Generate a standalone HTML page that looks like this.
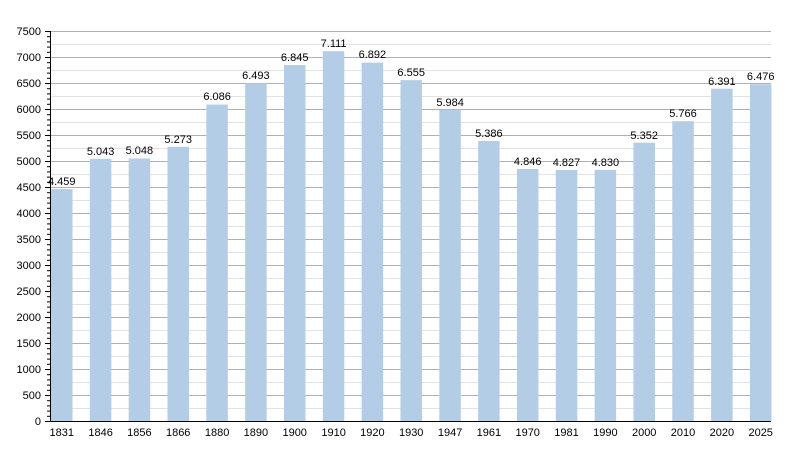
<!DOCTYPE html><html><head><style>body{margin:0;background:#fff}svg{display:block;font-family:"Liberation Sans",sans-serif}</style></head><body>
<svg width="800" height="450" xmlns="http://www.w3.org/2000/svg">
<defs>
<pattern id="mg" patternUnits="userSpaceOnUse" x="0" y="5" width="800" height="26"><line x1="0" x2="800" y1="0.5" y2="0.5" stroke="#b0b0b0"/><line x1="0" x2="800" y1="13.5" y2="13.5" stroke="#e2e2e2"/></pattern>
<pattern id="tk" patternUnits="userSpaceOnUse" x="0" y="5" width="10" height="5.2"><rect x="0" y="0" width="10" height="1" fill="#000"/></pattern>
<pattern id="tM" patternUnits="userSpaceOnUse" x="0" y="5" width="10" height="26"><rect x="0" y="0" width="10" height="1" fill="#000"/></pattern>
</defs>
<rect x="50" y="30" width="721" height="392" fill="url(#mg)"/>
<rect x="47" y="30" width="3" height="392" fill="url(#tk)"/>
<rect x="45" y="30" width="5" height="392" fill="url(#tM)"/>
<g font-size="11" text-anchor="end">
<text x="41" y="425">0</text><text x="41" y="399">500</text><text x="41" y="373">1000</text><text x="41" y="347">1500</text><text x="41" y="321">2000</text><text x="41" y="295">2500</text><text x="41" y="269">3000</text><text x="41" y="243">3500</text><text x="41" y="217">4000</text><text x="41" y="191">4500</text><text x="41" y="165">5000</text><text x="41" y="139">5500</text><text x="41" y="113">6000</text><text x="41" y="87">6500</text><text x="41" y="61">7000</text><text x="41" y="35">7500</text>
</g>
<g fill="#b3cde6">
<rect x="51" y="189.13" width="21.5" height="231.87"/>
<rect x="89.83" y="158.76" width="21.5" height="262.24"/>
<rect x="128.66" y="158.5" width="21.5" height="262.5"/>
<rect x="167.49" y="146.8" width="21.5" height="274.2"/>
<rect x="206.32" y="104.53" width="21.5" height="316.47"/>
<rect x="245.15" y="83.36" width="21.5" height="337.64"/>
<rect x="283.98" y="65.06" width="21.5" height="355.94"/>
<rect x="322.81" y="51.23" width="21.5" height="369.77"/>
<rect x="361.64" y="62.62" width="21.5" height="358.38"/>
<rect x="400.47" y="80.14" width="21.5" height="340.86"/>
<rect x="439.3" y="109.83" width="21.5" height="311.17"/>
<rect x="478.13" y="140.93" width="21.5" height="280.07"/>
<rect x="516.96" y="169" width="21.5" height="252"/>
<rect x="555.79" y="170" width="21.5" height="251"/>
<rect x="594.62" y="169.84" width="21.5" height="251.16"/>
<rect x="633.45" y="142.7" width="21.5" height="278.3"/>
<rect x="672.28" y="121.17" width="21.5" height="299.83"/>
<rect x="711.11" y="88.67" width="21.5" height="332.33"/>
<rect x="749.94" y="84.25" width="21.5" height="336.75"/>
</g>
<g font-size="11" text-anchor="middle">
<text x="61.75" y="185">4.459</text>
<text x="100.6" y="155">5.043</text>
<text x="139.4" y="154">5.048</text>
<text x="178.2" y="143">5.273</text>
<text x="217.1" y="100">6.086</text>
<text x="255.9" y="79">6.493</text>
<text x="294.7" y="61">6.845</text>
<text x="333.6" y="47">7.111</text>
<text x="372.4" y="58">6.892</text>
<text x="411.2" y="76">6.555</text>
<text x="450.1" y="106">5.984</text>
<text x="488.9" y="137">5.386</text>
<text x="527.7" y="165">4.846</text>
<text x="566.5" y="166">4.827</text>
<text x="605.4" y="166">4.830</text>
<text x="644.2" y="139">5.352</text>
<text x="683" y="117">5.766</text>
<text x="721.9" y="85">6.391</text>
<text x="760.7" y="80">6.476</text>
</g>
<g font-size="11" text-anchor="middle">
<text x="61.75" y="436">1831</text><text x="100.6" y="436">1846</text><text x="139.4" y="436">1856</text><text x="178.2" y="436">1866</text><text x="217.1" y="436">1880</text><text x="255.9" y="436">1890</text><text x="294.7" y="436">1900</text><text x="333.6" y="436">1910</text><text x="372.4" y="436">1920</text><text x="411.2" y="436">1930</text><text x="450.1" y="436">1947</text><text x="488.9" y="436">1961</text><text x="527.7" y="436">1970</text><text x="566.5" y="436">1981</text><text x="605.4" y="436">1990</text><text x="644.2" y="436">2000</text><text x="683" y="436">2010</text><text x="721.9" y="436">2020</text><text x="760.7" y="436">2025</text>
</g>
<line x1="50.5" x2="50.5" y1="31" y2="421" stroke="#000"/>
<line x1="50" x2="771" y1="421.5" y2="421.5" stroke="#000"/>
</svg></body></html>
